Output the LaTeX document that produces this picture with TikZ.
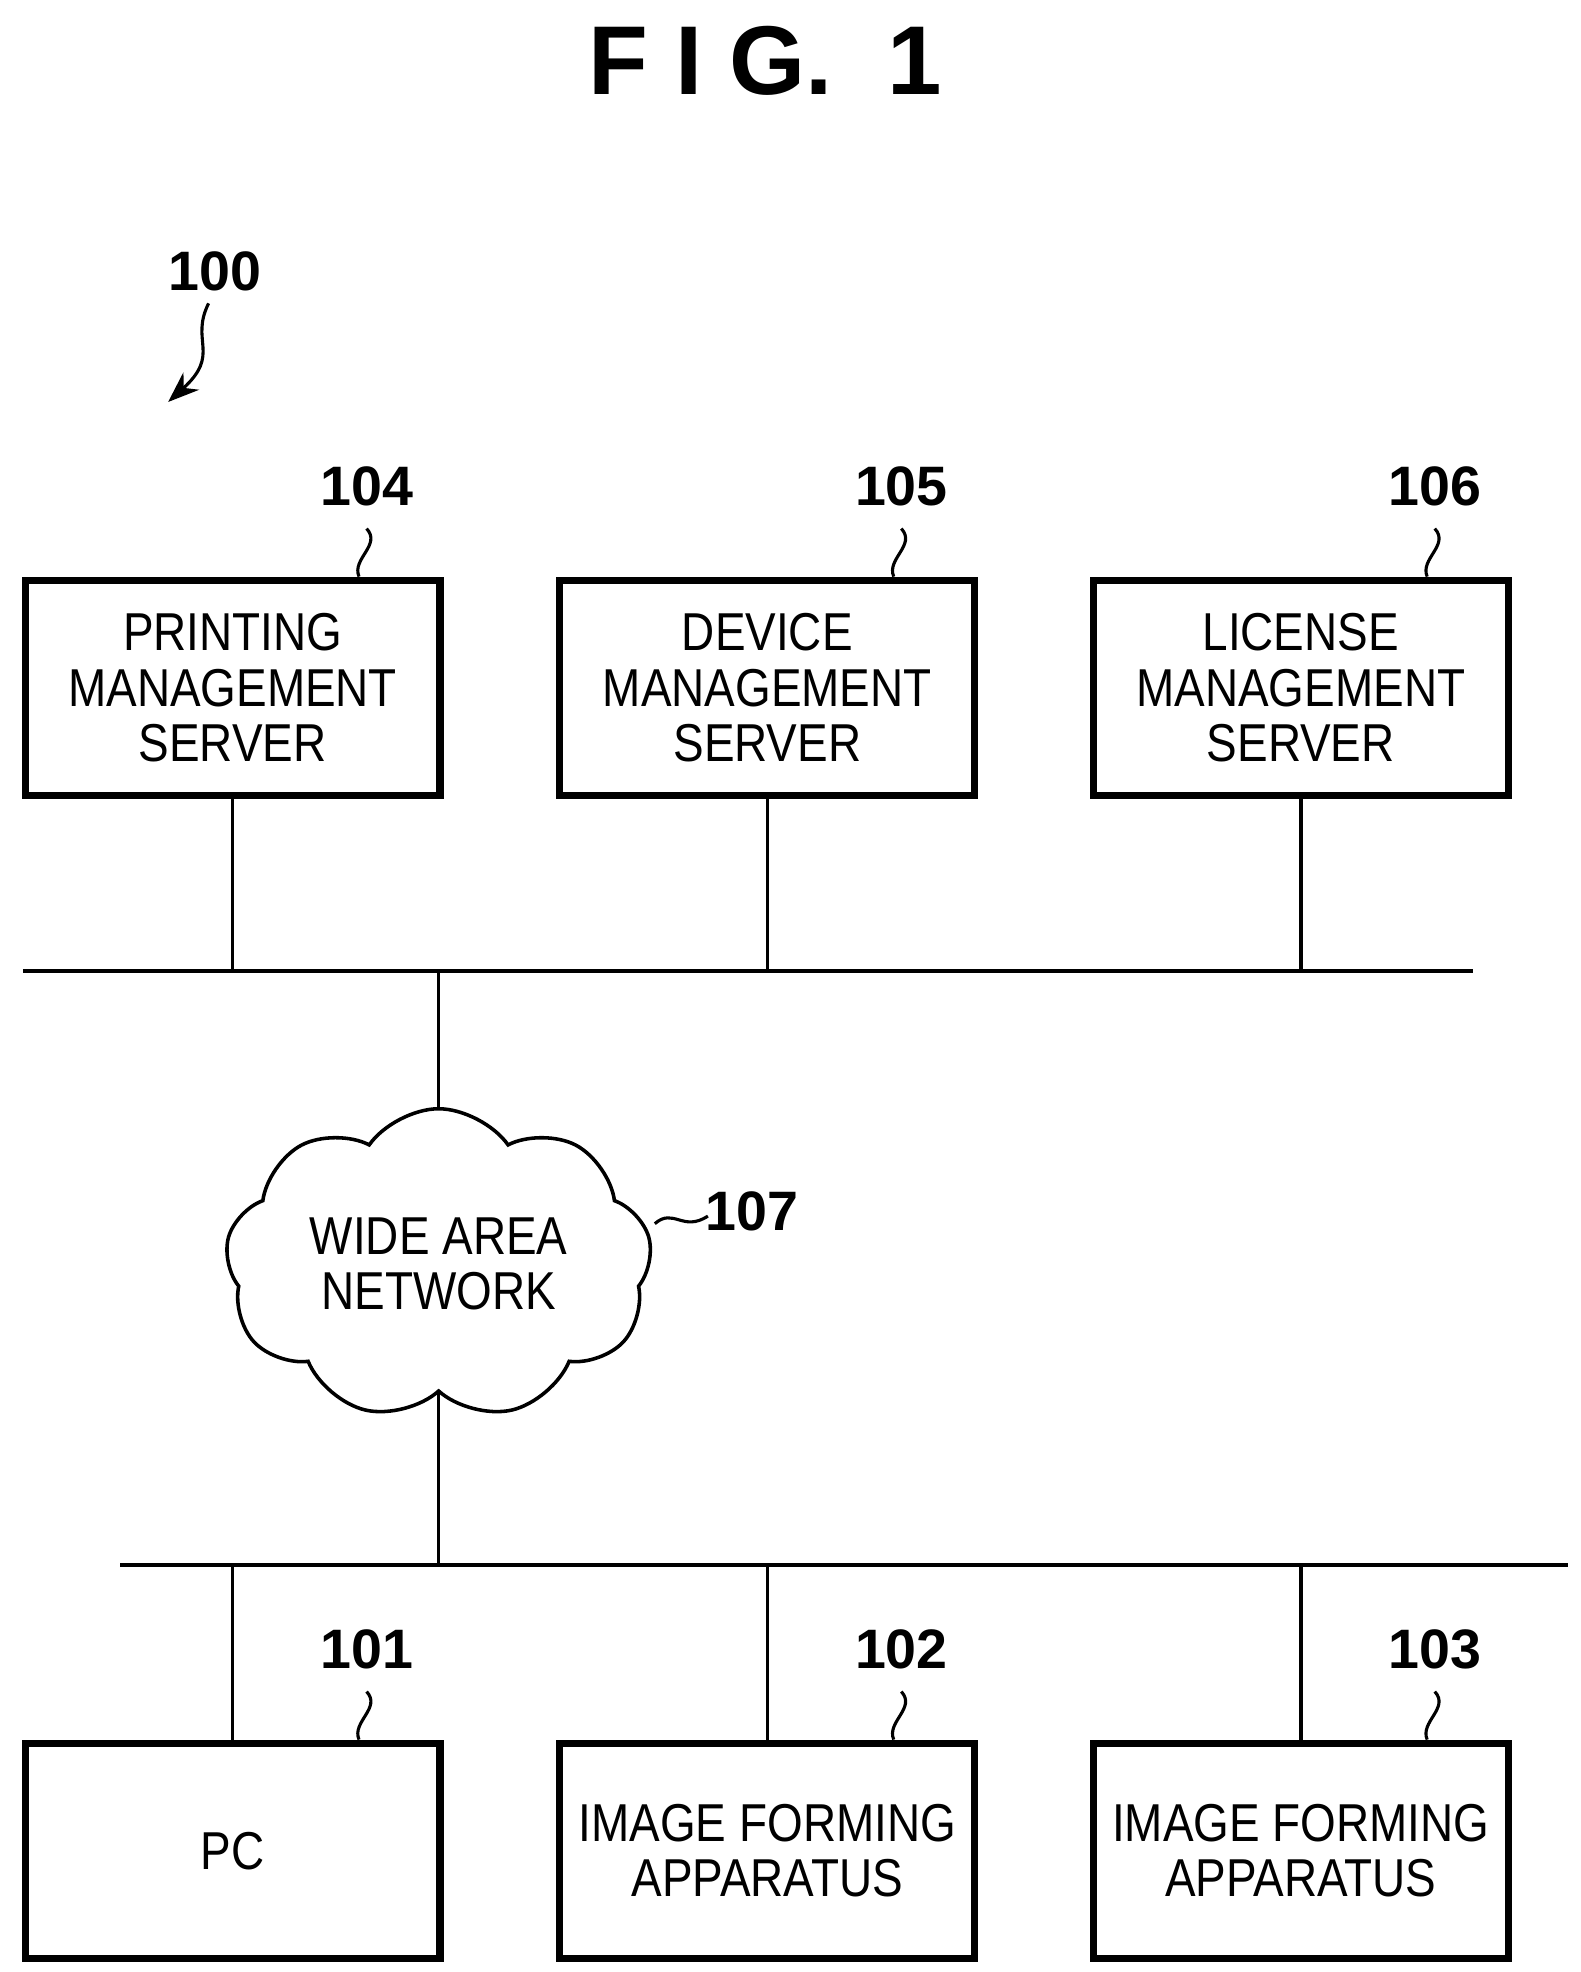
\documentclass[tikz,border=0pt]{standalone}
\usepackage{fontspec}
\setmainfont{Liberation Sans}
\newfontfamily\narrowsans[FakeStretch=0.86]{Liberation Sans}
\usetikzlibrary{shapes.symbols, arrows.meta, positioning, calc}

\begin{document}
\begin{tikzpicture}[x=0.01cm, y=-0.01cm,
    box/.style={draw, line width=1.6pt, minimum width=3.28cm, minimum height=1.70cm,
                align=center, font=\narrowsans\fontsize{12}{12.5}\selectfont, inner sep=0pt},
    refnum/.style={font=\fontsize{12.5}{14}\selectfont\bfseries},
    wire/.style={line width=0.8pt},
    squig/.style={line width=0.7pt}
]
    \useasboundingbox (0,0) rectangle (1250,1560);

    % Title
    \node[font=\fontsize{22}{26}\selectfont\bfseries] (title) at (605,48) {F I G.\ \ 1};

    % System label
    \node[refnum] (sys) at (170,215) {100};
    \draw[squig, -{Stealth[length=7pt]}] (165,240) .. controls (150,270) and (175,280) .. (133,318);

    % Servers
    \node[box] (pms) at (184,544) {PRINTING\\MANAGEMENT\\SERVER};
    \node[box] (dms) at (607,544) {DEVICE\\MANAGEMENT\\SERVER};
    \node[box] (lms) at (1029,544) {LICENSE\\MANAGEMENT\\SERVER};

    % Client devices
    \node[box] (pc) at (184,1464) {PC};
    \node[box] (ifa1) at (607,1464) {IMAGE FORMING\\APPARATUS};
    \node[box] (ifa2) at (1029,1464) {IMAGE FORMING\\APPARATUS};

    % Reference numbers
    \foreach \n/\b in {104/pms, 105/dms, 106/lms, 101/pc, 102/ifa1, 103/ifa2} {
        \node[refnum, above=0.43cm of \b.north, xshift=1.06cm] (n\n) {\n};
        \draw[squig] ($(\b.north)+(106,-38)$) .. controls ($(\b.north)+(118,-25)$) and ($(\b.north)+(94,-14)$) .. ($(\b.north)+(100,0)$);
    }

    % Cloud
    \node[cloud, draw, line width=0.8pt, cloud puffs=9, cloud puff arc=110, aspect=1.6,
          minimum width=3.2cm, minimum height=1.9cm, align=center,
          font=\narrowsans\fontsize{12}{12.5}\selectfont] (wan) at (347,1000) {WIDE AREA\\NETWORK};
    \node[refnum] (n107) at (595,958) {107};
    \draw[squig] (518,968) .. controls (533,955) and (540,975) .. (560,962);

    % Buses
    \coordinate (bus1l) at (18,768);
    \coordinate (bus1r) at (1165,768);
    \coordinate (bus2l) at (95,1238);
    \coordinate (bus2r) at (1240,1238);
    \draw[wire] (bus1l) -- (bus1r);
    \draw[wire] (bus2l) -- (bus2r);
    \foreach \b in {pms, dms, lms} \draw[wire] (\b.south) -- (\b.south |- bus1l);
    \foreach \b in {pc, ifa1, ifa2} \draw[wire] (\b.north) -- (\b.north |- bus2l);
    \draw[wire] (wan.north) -- (wan.north |- bus1l);
    \draw[wire] (wan.south) -- (wan.south |- bus2l);
\end{tikzpicture}
\end{document}
